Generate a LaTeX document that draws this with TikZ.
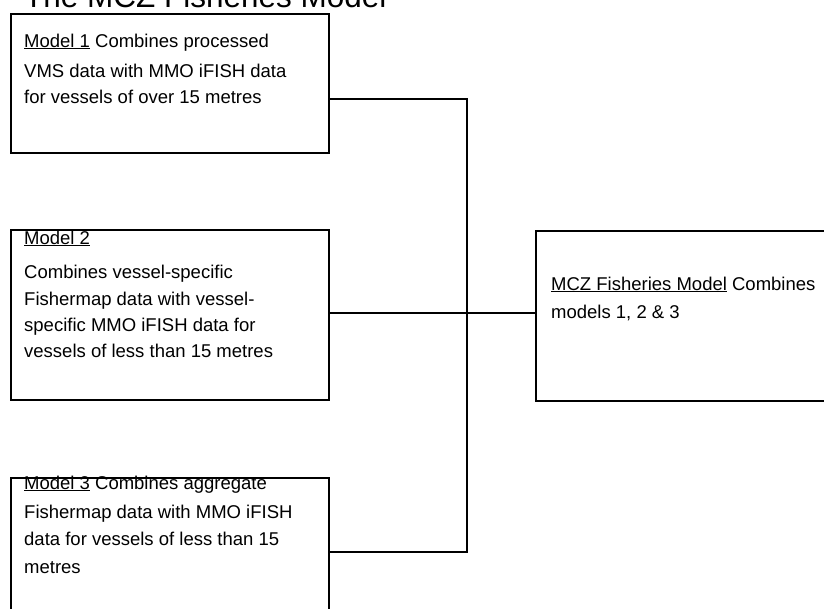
\documentclass[tikz,border=0pt]{standalone}
\usepackage{fontspec}
\setmainfont{Liberation Sans}
\begin{document}
\begin{tikzpicture}[x=1pt,y=-1pt,
  box/.style={draw=black,line width=1.8pt,inner sep=0pt,anchor=north west},
  txt/.style={anchor=base west,inner sep=0pt,font=\fontsize{18.5}{22}\selectfont},
  wire/.style={draw=black,line width=1.8pt}]
\useasboundingbox (0,0) rectangle (824,608);
\clip (0,0) rectangle (824,608);
\node[anchor=base west,inner sep=0pt,font=\fontsize{31.5}{36}\selectfont] (title) at (24,7) {The MCZ Fisheries Model};
% boxes
\node[box,minimum width=318pt,minimum height=139pt] (m1) at (10,13) {};
\node[box,minimum width=318pt,minimum height=170pt] (m2) at (10,229) {};
\node[box,minimum width=318pt,minimum height=170pt] (m3) at (10,477) {};
\node[box,minimum width=320pt,minimum height=170pt] (m4) at (535,230) {};
% texts
\node[txt] (t11) at (24,47) {\underline{Model 1} Combines processed};
\node[txt] (t12) at (24,77) {VMS data with MMO iFISH data};
\node[txt] (t13) at (24,103) {for vessels of over 15 metres};
\node[txt] (t21) at (24,244) {\underline{Model 2}};
\node[txt] (t22) at (24,278) {Combines vessel-specific};
\node[txt] (t23) at (24,305) {Fishermap data with vessel-};
\node[txt] (t24) at (24,331) {specific MMO iFISH data for};
\node[txt] (t25) at (24,357) {vessels of less than 15 metres};
\node[txt] (t31) at (24,489) {\underline{Model 3} Combines aggregate};
\node[txt] (t32) at (24,518) {Fishermap data with MMO iFISH};
\node[txt] (t33) at (24,545) {data for vessels of less than 15};
\node[txt] (t34) at (24,573) {metres};
\node[txt] (t41) at (551,290) {\underline{MCZ Fisheries Model} Combines};
\node[txt] (t42) at (551,318) {models 1, 2 \& 3};
% connectors
\coordinate (jt) at (467,99);
\coordinate (jm) at (467,313);
\coordinate (jb) at (467,552);
\draw[wire] (m1.east |- jt) -- (jt) -- (jb) -- (m3.east |- jb);
\draw[wire] (m2.east |- jm) -- (m4.west |- jm);
\end{tikzpicture}
\end{document}
